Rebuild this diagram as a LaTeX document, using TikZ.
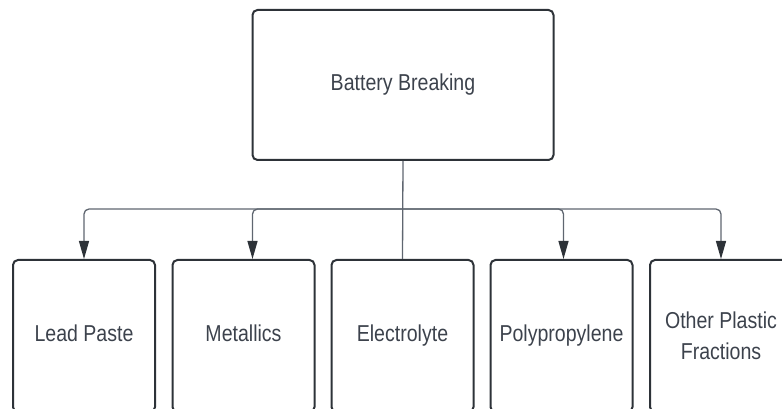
\documentclass[tikz,border=0pt]{standalone}
\usepackage{fontspec}
\setmainfont{Liberation Sans}[FakeStretch=0.85]
\usetikzlibrary{arrows.meta,calc,positioning}
\definecolor{boxgray}{RGB}{45,50,56}
\definecolor{textgray}{RGB}{60,66,76}
\definecolor{linegray}{RGB}{95,102,112}

\begin{document}
\begin{tikzpicture}[x=1pt, y=1pt,
					block/.style={draw=boxgray, line width=2pt, rounded corners=5pt, text=textgray, align=center, font=\fontsize{23}{34}\selectfont},
					leafbox/.style={block, minimum width=142pt, minimum height=152pt},
					leaf/.style={leafbox, text height=17pt, text depth=5pt},
					link/.style={draw=linegray, line width=1.3pt, rounded corners=5pt},
					flow/.style={link, -{Triangle[length=18pt, width=10pt, color=boxgray]}}]
					\useasboundingbox (0,0) rectangle (782,409);
					\clip (0,0) rectangle (782,409);
					% top box
					\node[block, minimum width=301pt, minimum height=150pt, text height=17pt, text depth=5pt] (root) at (403,324) {Battery Breaking};
					% fractions
					\node[leaf] (lead) at (84,73) {Lead Paste};
					\node[leaf] (metal) at (243.5,73) {Metallics};
					\node[leaf] (elec) at (402.5,73) {Electrolyte};
					\node[leaf] (poly) at (561.5,73) {Polypropylene};
					\node[leafbox] (other) at (721,73) {Other Plastic\\[-3pt]Fractions};
					\coordinate (hub) at ($(root.south)!0.49!(elec.north)$);
					% connectors
					\draw[link] (root.south) -- (elec.north);
					\draw[flow] (hub) -| (lead.north);
					\draw[flow] (hub) -| ([xshift=9pt]metal.north);
					\draw[flow] (hub) -| ([xshift=2pt]poly.north);
					\draw[flow] (hub) -| (other.north);
				\end{tikzpicture}
\end{document}
